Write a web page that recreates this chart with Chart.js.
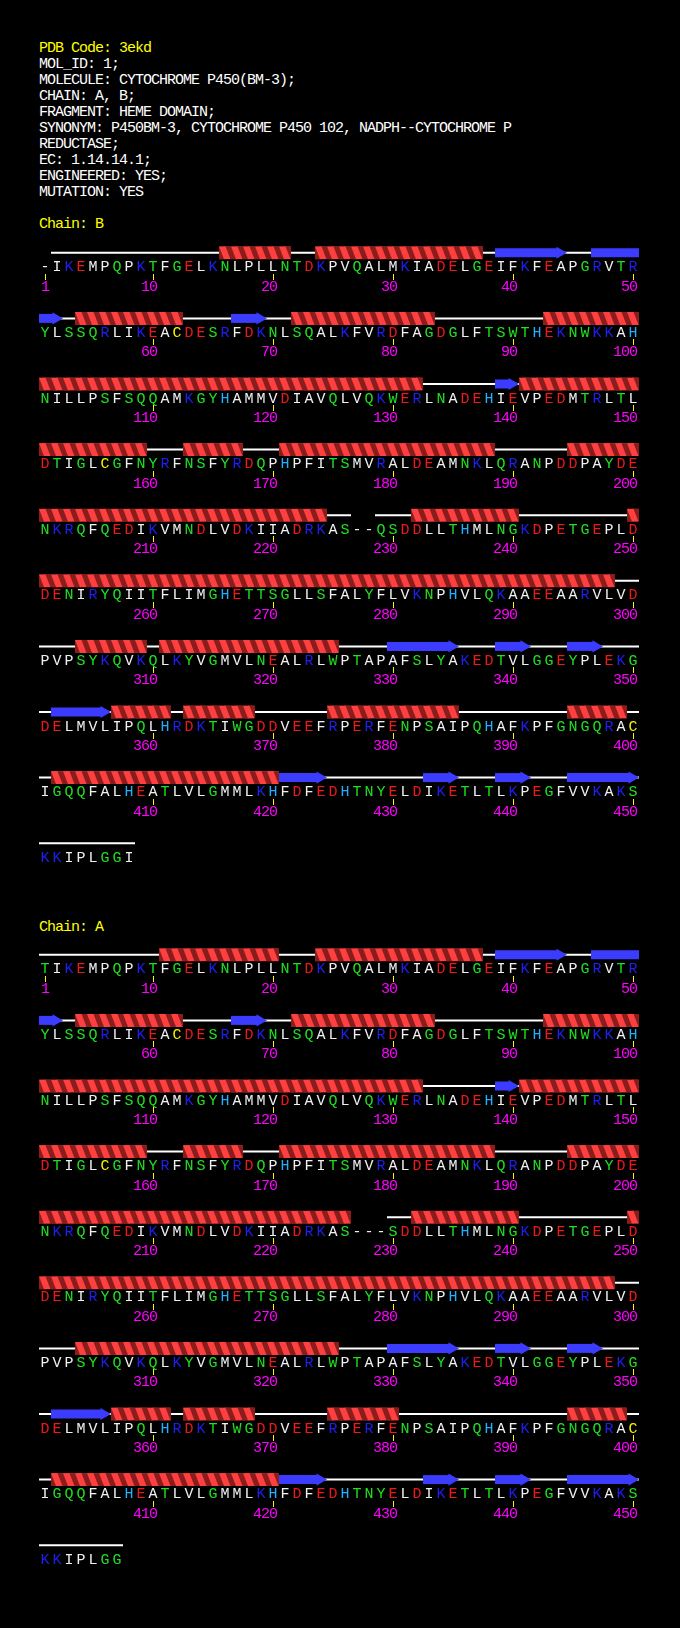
<!DOCTYPE html>
<html>
<head>
<meta charset="utf-8">
<script src="https://cdn.jsdelivr.net/npm/chart.js@4.4.0/dist/chart.umd.min.js"></script>
<style>
  html, body { margin: 0; padding: 0; background: #000; }
  body { width: 680px; height: 1628px; position: relative; overflow: hidden; }
  pre, .label {
    position: absolute; margin: 0;
    font-family: 'Liberation Mono', 'DejaVu Sans Mono', monospace; font-size: 15px;
    line-height: 16px; letter-spacing: -1px; color: #fff;
  }
  .yellow { color: #ffff00; }
  canvas { position: absolute; left: 0; }
</style>
</head>
<body>
<pre style="left:39px; top:41px;"><span class="yellow">PDB Code: 3ekd</span>
MOL_ID: 1;
MOLECULE: CYTOCHROME P450(BM-3);
CHAIN: A, B;
FRAGMENT: HEME DOMAIN;
SYNONYM: P450BM-3, CYTOCHROME P450 102, NADPH--CYTOCHROME P
REDUCTASE;
EC: 1.14.14.1;
ENGINEERED: YES;
MUTATION: YES</pre>

<div class="label yellow" style="left:39px; top:217px;">Chain: B</div>
<canvas id="chainB" width="680" height="670" style="top:213px; width:680px; height:670px;"></canvas>

<div class="label yellow" style="left:39px; top:920px;">Chain: A</div>
<canvas id="chainA" width="680" height="670" style="top:915px; width:680px; height:670px;"></canvas>

<script>
// residues as shown, 50 per line, "-" = not observed
const chainBRows = [
  "-IKEMPQPKTFGELKNLPLLNTDKPVQALMKIADELGEIFKFEAPGRVTR",
  "YLSSQRLIKEACDESRFDKNLSQALKFVRDFAGDGLFTSWTHEKNWKKAH",
  "NILLPSFSQQAMKGYHAMMVDIAVQLVQKWERLNADEHIEVPEDMTRLTL",
  "DTIGLCGFNYRFNSFYRDQPHPFITSMVRALDEAMNKLQRANPDDPAYDE",
  "NKRQFQEDIKVMNDLVDKIIADRKAS--QSDDLLTHMLNGKDPETGEPLD",
  "DENIRYQIITFLIMGHETTSGLLSFALYFLVKNPHVLQKAAEEAARVLVD",
  "PVPSYKQVKQLKYVGMVLNEALRLWPTAPAFSLYAKEDTVLGGEYPLEKG",
  "DELMVLIPQLHRDKTIWGDDVEEFRPERFENPSAIPQHAFKPFGNGQRAC",
  "IGQQFALHEATLVLGMMLKHFDFEDHTNYELDIKETLTLKPEGFVVKAKS",
  "KKIPLGGI"
];
const chainARows = [
  "TIKEMPQPKTFGELKNLPLLNTDKPVQALMKIADELGEIFKFEAPGRVTR",
  "YLSSQRLIKEACDESRFDKNLSQALKFVRDFAGDGLFTSWTHEKNWKKAH",
  "NILLPSFSQQAMKGYHAMMVDIAVQLVQKWERLNADEHIEVPEDMTRLTL",
  "DTIGLCGFNYRFNSFYRDQPHPFITSMVRALDEAMNKLQRANPDDPAYDE",
  "NKRQFQEDIKVMNDLVDKIIADRKAS---SDDLLTHMLNGKDPETGEPLD",
  "DENIRYQIITFLIMGHETTSGLLSFALYFLVKNPHVLQKAAEEAARVLVD",
  "PVPSYKQVKQLKYVGMVLNEALRLWPTAPAFSLYAKEDTVLGGEYPLEKG",
  "DELMVLIPQLHRDKTIWGDDVEEFRPERFENPSAIPQHAFKPFGNGQRAC",
  "IGQQFALHEATLVLGMMLKHFDFEDHTNYELDIKETLTLKPEGFVVKAKS",
  "KKIPLGG"
];

// secondary structure, residue ranges [from, to]
const chainBHelices = [[16, 21], [24, 37], [54, 62], [72, 83], [93, 132], [141, 159],
  [163, 167], [171, 188], [195, 224], [232, 240], [250, 298], [304, 309], [311, 325],
  [357, 361], [363, 368], [375, 385], [395, 399], [402, 420]];
const chainBStrands = [[39, 44], [47, 52], [67, 69], [139, 140], [330, 335], [339, 341],
  [345, 347], [352, 356], [421, 424], [433, 435], [439, 441], [445, 450]];

const chainAHelices = [[11, 20], [24, 37], [54, 62], [72, 83], [93, 132], [141, 159],
  [163, 167], [171, 188], [195, 226], [232, 240], [250, 298], [304, 325],
  [357, 361], [363, 368], [375, 380], [395, 399], [402, 420]];
const chainAStrands = [[39, 44], [47, 52], [67, 69], [139, 140], [330, 335], [339, 341],
  [345, 347], [352, 356], [421, 424], [433, 435], [439, 441], [445, 450]];

const tickResidues = [1, 10, 20, 30, 40, 50, 60, 70, 80, 90, 100, 110, 120, 130, 140,
  150, 160, 170, 180, 190, 200, 210, 220, 230, 240, 250, 260, 270, 280, 290, 300,
  310, 320, 330, 340, 350, 360, 370, 380, 390, 400, 410, 420, 430, 440, 450];

const COLS = 50;
const FONT = "15px 'Liberation Mono', 'DejaVu Sans Mono'";
const WHITE = "#f0f0f0", GREEN = "#1fe01f", RED = "#f01818",
      BLUE = "#1f1fef", CYAN = "#20b0ff", YELLOW = "#f8f800";
const residueColour = {
  A: WHITE, V: WHITE, L: WHITE, I: WHITE, M: WHITE, F: WHITE, P: WHITE,
  G: GREEN, S: GREEN, T: GREEN, N: GREEN, Q: GREEN, Y: GREEN, W: GREEN,
  D: RED, E: RED, K: BLUE, R: BLUE, H: CYAN, C: YELLOW
};
const STRAND = "#3c3cff";
const HEAD_R = 7;

// one turn of the helix ribbon per residue cell
const tile = document.createElement("canvas");
tile.width = 12;
tile.height = 13;
(function () {
  const g = tile.getContext("2d");
  g.fillStyle = "#8a1c1c";
  g.fillRect(0, 0, 12, 13);
  g.fillStyle = "#ff4040";
  g.beginPath();
  g.moveTo(0, 0); g.lineTo(6.5, 0); g.lineTo(11.5, 13); g.lineTo(5, 13);
  g.closePath();
  g.fill();
})();

function helixFill(ctx) {
  if (ctx.type !== "data" || !ctx.raw) return "#ff4040";
  const { x, y } = ctx.chart.scales;
  const pat = ctx.chart.ctx.createPattern(tile, "repeat");
  pat.setTransform(new DOMMatrix().translate(x.getPixelForValue(-0.5), y.getPixelForValue(ctx.raw.y) - 6.5));
  return pat;
}

// split a residue range into pieces, one per printed line
function pieces(from, to) {
  const out = [];
  let n = from;
  while (n <= to) {
    const row = Math.floor((n - 1) / COLS);
    const end = Math.min(to, (row + 1) * COLS);
    out.push({ row: row, c0: (n - 1) % COLS, c1: (end - 1) % COLS, last: end === to });
    n = end + 1;
  }
  return out;
}

function residuePlugin(rows) {
  return {
    id: "residues",
    afterDatasetsDraw(chart) {
      const { ctx, scales: { x, y } } = chart;
      ctx.save();
      ctx.font = FONT;
      ctx.textBaseline = "alphabetic";
      ctx.textAlign = "center";
      rows.forEach((line, r) => {
        const ss = y.getPixelForValue(r);
        [...line].forEach((ch, c) => {
          const cx = x.getPixelForValue(c);
          ctx.fillStyle = residueColour[ch] || WHITE;
          ctx.fillText(ch, cx, ss + 18.5);
          const n = r * COLS + c + 1;
          if (tickResidues.includes(n)) {
            ctx.fillStyle = YELLOW;
            ctx.fillRect(cx, Math.round(ss + 21), 1, 6);
            // number ends under the tick, 8px per digit
            ctx.fillStyle = "#ff00ff";
            const digits = String(n);
            for (let k = 0; k < digits.length; k++) {
              ctx.fillText(digits[digits.length - 1 - k], cx + 0.5 - 8 * k, ss + 38);
            }
          }
        });
      });
      ctx.restore();
    }
  };
}

function drawChain(id, rows, helices, strands) {
  const coil = [], helix = [], strand = [], heads = [];

  rows.forEach((line, r) => {
    let start = -1;
    for (let c = 0; c <= line.length; c++) {
      const present = c < line.length && line[c] !== "-";
      if (present && start < 0) start = c;
      if (!present && start >= 0) {
        coil.push({ x: [start - 0.5, c - 0.5], y: r });
        start = -1;
      }
    }
  });

  helices.forEach(([a, b]) => {
    pieces(a, b).forEach(p => helix.push({ x: [p.c0 - 0.5, p.c1 + 0.5], y: p.row }));
  });

  strands.forEach(([a, b]) => {
    pieces(a, b).forEach(p => {
      const tip = p.c1 + 0.5;
      strand.push({ x: [p.c0 - 0.5, p.last ? tip - 10 / 12 : tip], y: p.row });
      if (p.last) heads.push({ x: tip - HEAD_R / 12, y: p.row });
    });
  });

  return new Chart(document.getElementById(id), {
    type: "bar",
    data: {
      datasets: [
        { label: "coil", data: coil, backgroundColor: "#ffffff",
          barThickness: 2, maxBarThickness: 2, order: 4 },
        { label: "helix", data: helix, backgroundColor: helixFill,
          barThickness: 13, maxBarThickness: 13, order: 3 },
        { label: "strand", data: strand, backgroundColor: STRAND,
          barThickness: 9, maxBarThickness: 9, order: 2 },
        { type: "scatter", label: "strand end", data: heads,
          pointStyle: "triangle", pointRotation: 90, pointRadius: HEAD_R,
          pointBackgroundColor: STRAND, pointBorderWidth: 0, order: 1 }
      ]
    },
    options: {
      indexAxis: "y",
      responsive: false,
      animation: false,
      events: [],
      layout: { padding: { left: 39, right: 41, top: 0, bottom: 0 } },
      datasets: { bar: { grouped: false, borderWidth: 0, inflateAmount: 0 } },
      scales: {
        x: { type: "linear", min: -0.5, max: 49.5, offset: false, display: false },
        y: { type: "linear", min: -0.5, max: 9.5, reverse: true, offset: false, display: false }
      },
      plugins: { legend: { display: false }, tooltip: { enabled: false } }
    },
    plugins: [residuePlugin(rows)]
  });
}

drawChain("chainB", chainBRows, chainBHelices, chainBStrands);
drawChain("chainA", chainARows, chainAHelices, chainAStrands);
</script>
</body>
</html>
